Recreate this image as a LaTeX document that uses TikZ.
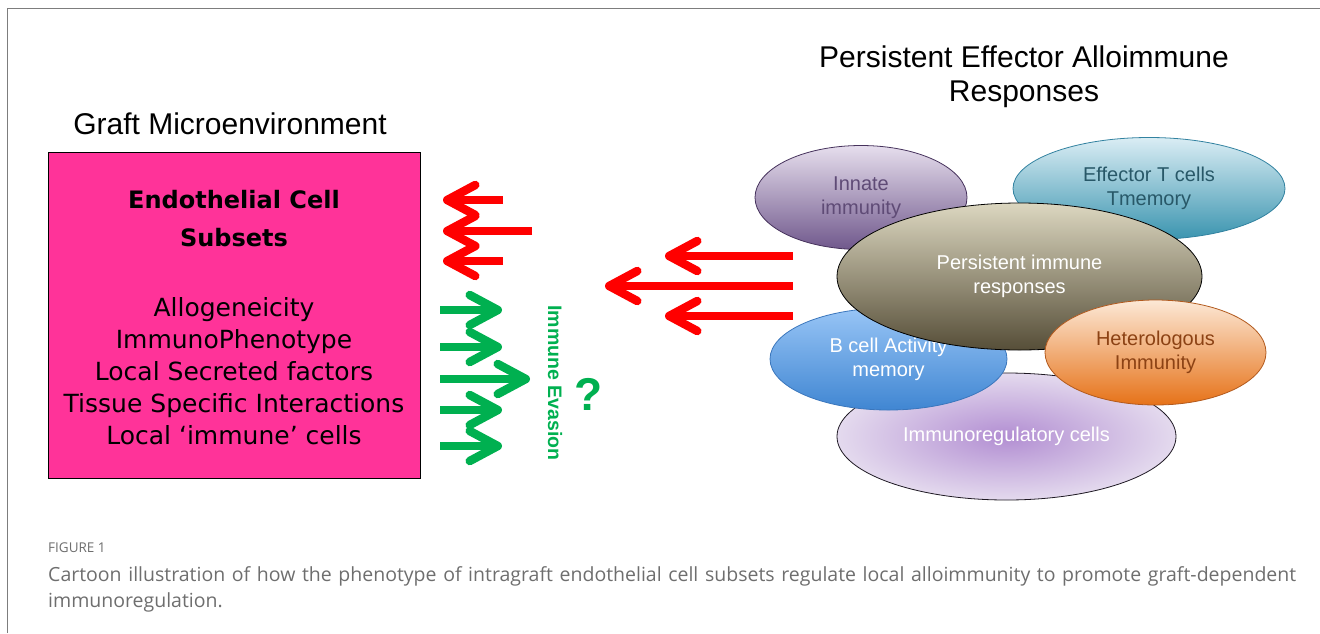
\documentclass[tikz,border=0pt]{standalone}
\usepackage{fontspec}
\setmainfont{Liberation Sans}
\newfontfamily\boxfont{DejaVu Sans}
\newfontfamily\capfont{Open Sans}
\usetikzlibrary{shapes.geometric,arrows.meta}
\definecolor{graftpink}{RGB}{255,51,153}
\definecolor{evgreen}{RGB}{0,176,80}
\definecolor{capgray}{RGB}{110,110,110}
\definecolor{frame}{RGB}{125,125,125}
\begin{document}
\begin{tikzpicture}[x=1pt,y=-1pt,
  redarrow/.style={line width=8.5pt, red, -{Straight Barb[length=28pt,width=30pt,round]}},
  greenarrow/.style={line width=8.5pt, evgreen, -{Straight Barb[length=28pt,width=30pt,round]}},
  bub/.style={ellipse, inner sep=0pt, align=center, line width=0.8pt,
    font=\fontsize{20}{24}\selectfont},
  heading/.style={align=center, font=\fontsize{30}{34}\selectfont}]
\useasboundingbox (0,0) rectangle (1320,633);
\draw[frame, line width=1.5pt] (7.5,633) -- (7.5,8.5) -- (1320,8.5);

% titles
\node[heading] (graft) at (230,124) {Graft Microenvironment};
\node[heading] (persist) at (1024,77) {Persistent Effector Alloimmune\\Responses};

% graft box
\node[draw=black, line width=1pt, fill=graftpink, minimum width=372pt, minimum height=326pt,
  inner sep=0pt] (box) at (234,315) {};
\node[font=\boxfont\bfseries\fontsize{24}{38}\selectfont, align=center] (endo) at (234,219)
  {Endothelial Cell\\Subsets};
\node[font=\boxfont\fontsize{25}{32}\selectfont, align=center] (props) at (234,371)
  {Allogeneicity\\ImmunoPhenotype\\Local Secreted factors\\Tissue Specific Interactions\\Local ‘immune’ cells};

% red arrows next to the box
\draw[redarrow] (503,200) -- (443,200);
\draw[redarrow] (532,231) -- (443,231);
\draw[redarrow] (503,261) -- (443,261);

% green arrows
\draw[greenarrow] (440,310) -- (502,310);
\draw[greenarrow] (440,347) -- (502,347);
\draw[greenarrow] (440,379) -- (530,379);
\draw[greenarrow] (440,410) -- (502,410);
\draw[greenarrow] (440,446) -- (502,446);
\node[rotate=-90, text=evgreen, font=\bfseries\fontsize{19.5}{22}\selectfont] (evasion) at (555,383) {Immune Evasion};
\node[text=evgreen, font=\bfseries\fontsize{46}{50}\selectfont] (quest) at (589,394) {?};

% red arrows from the responses
\draw[redarrow] (793,256) -- (665,256);
\draw[redarrow] (793,286) -- (605,286);
\draw[redarrow] (793,316) -- (665,316);

% response bubbles
\node[bub, top color={rgb,255:red,230;green,222;blue,237}, bottom color={rgb,255:red,112;green,88;blue,140},
  draw={rgb,255:red,70;green,50;blue,92}, text={rgb,255:red,95;green,75;blue,118},
  minimum width=212pt, minimum height=104pt] (innate) at (861,197.5) {Innate\\immunity};
\node[bub, top color={rgb,255:red,218;green,237;blue,244}, bottom color={rgb,255:red,58;green,148;blue,175},
  draw={rgb,255:red,50;green,130;blue,160}, text={rgb,255:red,40;green,88;blue,104},
  minimum width=272pt, minimum height=102pt] (effector) at (1149,188.5) {Effector T cells\\Tmemory};
\node[bub, inner color={rgb,255:red,178;green,142;blue,210}, outer color={rgb,255:red,228;green,218;blue,238},
  draw={rgb,255:red,30;green,25;blue,35}, text=white,
  minimum width=339pt, minimum height=127pt] (immreg) at (1006.5,436.5) {Immunoregulatory cells};
\node[bub, top color={rgb,255:red,152;green,197;blue,246}, bottom color={rgb,255:red,64;green,134;blue,210},
  draw={rgb,255:red,58;green,118;blue,188}, text=white,
  minimum width=237pt, minimum height=102pt] (bcell) at (888.5,359) {B cell Activity\\memory};
\node[bub, top color={rgb,255:red,220;green,215;blue,192}, bottom color={rgb,255:red,86;green,78;blue,56},
  draw=black, text=white,
  minimum width=365pt, minimum height=147pt] (persresp) at (1019.5,276.5) {Persistent immune\\responses};
\node[bub, top color={rgb,255:red,252;green,232;blue,214}, bottom color={rgb,255:red,230;green,114;blue,24},
  draw={rgb,255:red,178;green,90;blue,30}, text={rgb,255:red,140;green,66;blue,20},
  minimum width=221pt, minimum height=105pt] (hetero) at (1155.5,352.5) {Heterologous\\Immunity};

% caption
\node[anchor=west, text=capgray, font=\capfont\fontsize{13.5}{16}\selectfont, inner sep=0pt] (fig) at (48,548) {FIGURE 1};
\node[anchor=north west, text width=1248pt, align=justify, text=capgray, inner sep=0pt,
  font=\capfont\fontsize{19.5}{26}\selectfont] (caption) at (48,566)
  {Cartoon illustration of how the phenotype of intragraft endothelial cell subsets regulate local alloimmunity to promote graft-dependent \mbox{immunoregulation.}};
\end{tikzpicture}
\end{document}
